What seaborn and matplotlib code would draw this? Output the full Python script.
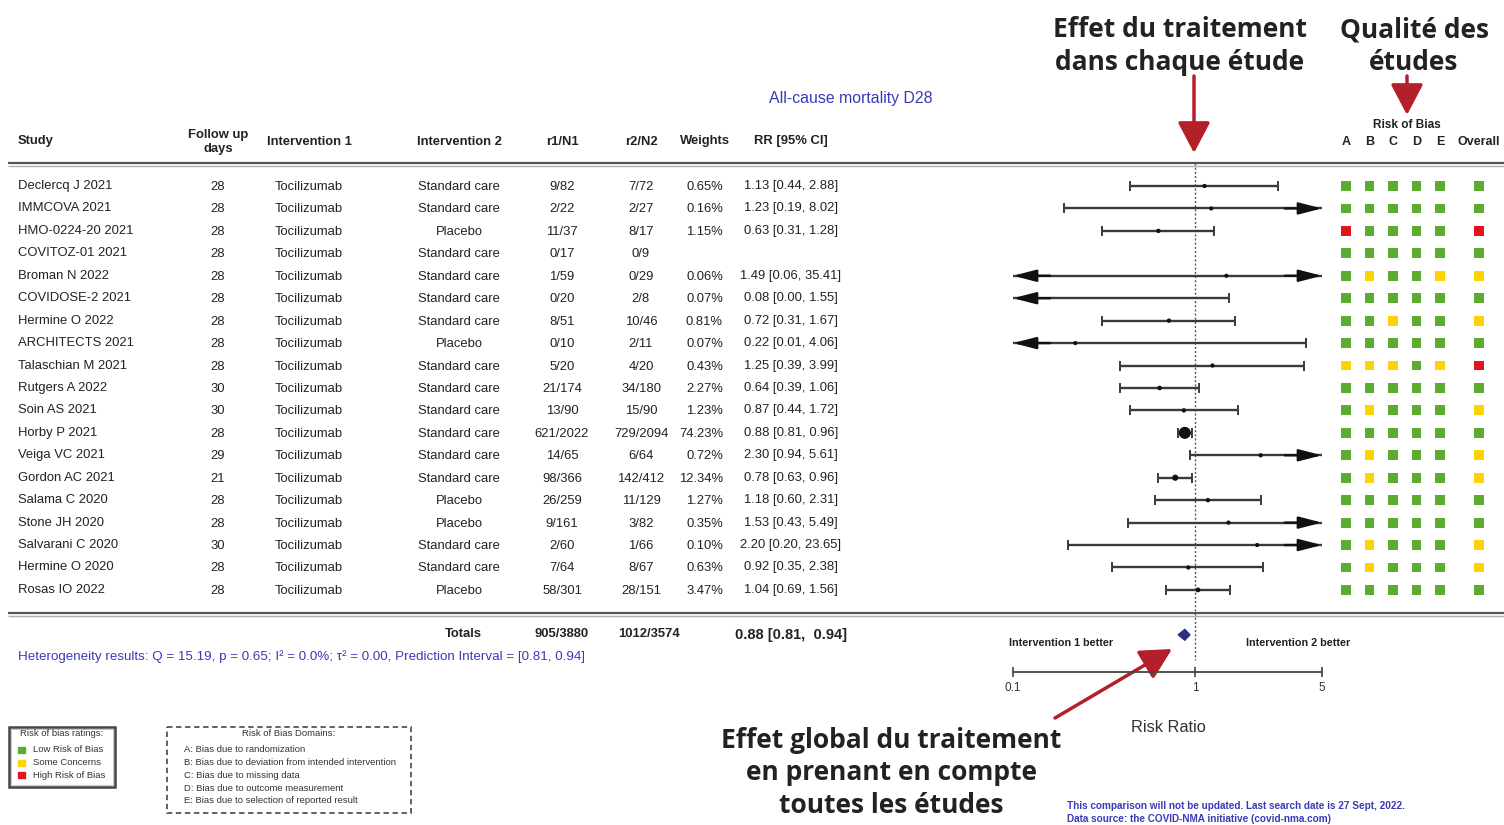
import numpy as np
import pandas as pd
import seaborn as sns
import matplotlib.pyplot as plt
from matplotlib.patches import Rectangle, Polygon
from matplotlib.ticker import NullLocator

sns.set_style('white')
plt.rcParams['font.family'] = ['Liberation Sans', 'DejaVu Sans']

nan = np.nan
studies = ['Declercq J 2021', 'IMMCOVA 2021', 'HMO-0224-20 2021', 'COVITOZ-01 2021', 'Broman N 2022',
           'COVIDOSE-2 2021', 'Hermine O 2022', 'ARCHITECTS 2021', 'Talaschian M 2021', 'Rutgers A 2022',
           'Soin AS 2021', 'Horby P 2021', 'Veiga VC 2021', 'Gordon AC 2021', 'Salama C 2020',
           'Stone JH 2020', 'Salvarani C 2020', 'Hermine O 2020', 'Rosas IO 2022']
follow_up = [28, 28, 28, 28, 28, 28, 28, 28, 28, 30, 30, 28, 29, 21, 28, 28, 30, 28, 28]
intervention1 = ['Tocilizumab'] * 19
intervention2 = ['Standard care', 'Standard care', 'Placebo', 'Standard care', 'Standard care',
                 'Standard care', 'Standard care', 'Placebo', 'Standard care', 'Standard care',
                 'Standard care', 'Standard care', 'Standard care', 'Standard care', 'Placebo',
                 'Placebo', 'Standard care', 'Standard care', 'Placebo']
r1n1 = ['9/82', '2/22', '11/37', '0/17', '1/59', '0/20', '8/51', '0/10', '5/20', '21/174', '13/90',
        '621/2022', '14/65', '98/366', '26/259', '9/161', '2/60', '7/64', '58/301']
r2n2 = ['7/72', '2/27', '8/17', '0/9', '0/29', '2/8', '10/46', '2/11', '4/20', '34/180', '15/90',
        '729/2094', '6/64', '142/412', '11/129', '3/82', '1/66', '8/67', '28/151']
weights = [0.65, 0.16, 1.15, nan, 0.06, 0.07, 0.81, 0.07, 0.43, 2.27, 1.23, 74.23, 0.72, 12.34,
           1.27, 0.35, 0.10, 0.63, 3.47]
rr = [1.13, 1.23, 0.63, nan, 1.49, 0.08, 0.72, 0.22, 1.25, 0.64, 0.87, 0.88, 2.30, 0.78, 1.18,
      1.53, 2.20, 0.92, 1.04]
ci_low = [0.44, 0.19, 0.31, nan, 0.06, 0.00, 0.31, 0.01, 0.39, 0.39, 0.44, 0.81, 0.94, 0.63, 0.60,
          0.43, 0.20, 0.35, 0.69]
ci_high = [2.88, 8.02, 1.28, nan, 35.41, 1.55, 1.67, 4.06, 3.99, 1.06, 1.72, 0.96, 5.61, 0.96, 2.31,
           5.49, 23.65, 2.38, 1.56]

# risk of bias: L = low, S = some concerns, H = high
rob_domains = ['A', 'B', 'C', 'D', 'E', 'Overall']
rob_A = list('LLHLLLLLSLLLLLLLLLL')
rob_B = list('LLLLSLLLSLSLSSLLSSL')
rob_C = list('LLLLLLSLSLLLLLLLLLL')
rob_D = list('LLLLLLLLLLLLLLLLLLL')
rob_E = list('LLLLSLLLSLLLLLLLLLL')
rob_overall = list('LLHLSLSLHLSLSSLLSSL')

total_r1, total_r2 = '905/3880', '1012/3574'
pooled_rr, pooled_lo, pooled_hi = 0.88, 0.81, 0.94

W, H = 1504, 825
ROW0, DY = 186, 22.44
def ypx(i):
    return ROW0 + i * DY

fig = plt.figure(figsize=(W / 100, H / 100), dpi=100)
ax0 = fig.add_axes([0, 0, 1, 1])
ax0.set_xlim(0, W)
ax0.set_ylim(H, 0)
ax0.axis('off')

txt = '#222222'
blue = '#3a3ab8'
red_arrow = '#b3202a'
fs = 9.4

# title and headers
ax0.text(851, 98, 'All-cause mortality D28', color=blue, fontsize=11.4, ha='center', va='center')
hdr = dict(fontsize=fs, fontweight='bold', color=txt, va='center')
ax0.text(18, 141, 'Study', ha='left', **hdr)
ax0.text(218, 142, 'Follow up\ndays', ha='center', linespacing=1.3, **hdr)
ax0.text(309, 142, 'Intervention 1', ha='center', **hdr)
ax0.text(459, 142, 'Intervention 2', ha='center', **hdr)
ax0.text(562, 142, 'r1/N1', ha='center', **hdr)
ax0.text(641, 142, 'r2/N2', ha='center', **hdr)
ax0.text(705, 141, 'Weights', ha='center', **hdr)
ax0.text(791, 141, 'RR [95% CI]', ha='center', **hdr)
ax0.text(1407, 125, 'Risk of Bias', ha='center', fontsize=8.5, fontweight='bold', color=txt, va='center')

for y, lw, c in [(162.5, 1.6, '#555555'), (165.5, 1.0, '#b0b0b0'), (612.5, 1.6, '#555555'), (615.5, 1.0, '#b0b0b0')]:
    ax0.plot([8, W], [y, y], color=c, lw=lw, solid_capstyle='butt')

# table rows
row = dict(fontsize=fs, color=txt, va='center')
for i in range(len(studies)):
    y = ypx(i)
    ax0.text(18, y, studies[i], ha='left', **row)
    ax0.text(218, y + 1, str(follow_up[i]), ha='center', **row)
    ax0.text(275, y + 1, intervention1[i], ha='left', **row)
    ax0.text(459, y + 1, intervention2[i], ha='center', **row)
    ax0.text(562, y + 1, r1n1[i], ha='center', **row)
    ax0.text(641, y + 1, r2n2[i], ha='center', **row)
    if not np.isnan(weights[i]):
        ax0.text(723, y + 1, f'{weights[i]:.2f}%', ha='right', **row)
        ax0.text(791, y, f'{rr[i]:.2f} [{ci_low[i]:.2f}, {ci_high[i]:.2f}]', ha='center', **row)

# totals
ax0.text(463, 634, 'Totals', ha='center', va='center', fontsize=fs, fontweight='bold', color=txt)
ax0.text(562, 634, total_r1, ha='center', va='center', fontsize=fs, fontweight='bold', color=txt)
ax0.text(649, 634, total_r2, ha='center', va='center', fontsize=fs, fontweight='bold', color=txt)
ax0.text(791, 635, f'{pooled_rr:.2f} [{pooled_lo:.2f},  {pooled_hi:.2f}]', ha='center', va='center',
         fontsize=10.5, fontweight='bold', color=txt)
ax0.text(18, 657, 'Heterogeneity results: Q = 15.19, p = 0.65; I² = 0.0%; τ² = 0.00, '
         'Prediction Interval = [0.81, 0.94]', ha='left', va='center', fontsize=9.6, color=blue)

ax0.text(1061, 643, 'Intervention 1 better', ha='center', va='center', fontsize=7.8, fontweight='bold', color=txt)
ax0.text(1298, 643, 'Intervention 2 better', ha='center', va='center', fontsize=7.8, fontweight='bold', color=txt)
ax0.text(1168, 728, 'Risk Ratio', ha='center', va='center', fontsize=11.8, color='#333333')

# forest plot axes (log scale, rows on y)
fx0, fx1, fy0, fy1 = 1013, 1322, 163, 672
ax = fig.add_axes([fx0 / W, 1 - fy1 / H, (fx1 - fx0) / W, (fy1 - fy0) / H])
ax.set_facecolor('none')
ax.set_xscale('log')
ax.set_xlim(0.1, 5)
ax.set_ylim((fy1 - ROW0) / DY, (fy0 - ROW0) / DY)
for s in ['top', 'left', 'right']:
    ax.spines[s].set_visible(False)
ax.spines['bottom'].set_color('#444444')
ax.spines['bottom'].set_linewidth(1.3)
ax.set_xticks([0.1, 1, 5])
ax.set_xticklabels(['0.1', '1', '5'])
ax.xaxis.set_minor_locator(NullLocator())
ax.set_yticks([])
ax.tick_params(axis='x', direction='inout', length=7, width=1.2, color='#444444',
               labelsize=8.5, labelcolor='#333333', pad=4, bottom=True)
ax.vlines(1, (fy0 - ROW0) / DY, (660 - ROW0) / DY, color='#555555', lw=1.0, linestyles=(0, (1.5, 1.5)))

xmin, xmax = 0.1, 5
lc = '#3a3a3a'
for i in range(len(studies)):
    if np.isnan(rr[i]):
        continue
    lo, hi = ci_low[i], ci_high[i]
    lo_c, hi_c = max(lo, xmin), min(hi, xmax)
    ax.hlines(i, lo_c, hi_c, color=lc, lw=1.7)
    if lo >= xmin:
        ax.plot([lo], [i], marker='|', ms=7, mew=1.4, color=lc)
    else:
        ax.annotate('', xy=(xmin, i), xytext=(xmin * 1.6, i),
                    arrowprops=dict(arrowstyle='-|>,head_length=1.4,head_width=0.36', color='#111111',
                                    lw=1.7, mutation_scale=10, shrinkA=0, shrinkB=0))
    if hi <= xmax:
        ax.plot([hi], [i], marker='|', ms=7, mew=1.4, color=lc)
    else:
        ax.annotate('', xy=(xmax, i), xytext=(xmax / 1.6, i),
                    arrowprops=dict(arrowstyle='-|>,head_length=1.4,head_width=0.36', color='#111111',
                                    lw=1.7, mutation_scale=10, shrinkA=0, shrinkB=0))

pts = pd.DataFrame({'rr': rr, 'row': np.arange(len(studies)), 'w': weights}).dropna()
pts = pts[pts['rr'] >= xmin]
sns.scatterplot(data=pts, x='rr', y='row', size='w', sizes=(9, 75), marker='o', color='#111111',
                linewidth=0, legend=False, ax=ax, zorder=5)
ax.set_xlabel('')
ax.set_ylabel('')

ydia = 20
hh = 0.24
ax.add_patch(Polygon([(pooled_lo, ydia), (pooled_rr, ydia - hh), (pooled_hi, ydia), (pooled_rr, ydia + hh)],
                     closed=True, color='#2b2d7e', zorder=6))

# risk of bias grid
rob = pd.DataFrame({'A': rob_A, 'B': rob_B, 'C': rob_C, 'D': rob_D, 'E': rob_E, 'Overall': rob_overall})
rob['row'] = np.arange(len(rob))
rob_long = rob.melt(id_vars='row', var_name='domain', value_name='rating')
dom_pos = {'A': 0, 'B': 1, 'C': 2, 'D': 3, 'E': 4, 'Overall': 5.65}
rob_long['pos'] = rob_long['domain'].map(dom_pos)
rx0, rx1, rstep = 1330, 1502, 23.5
axr = fig.add_axes([rx0 / W, 1 - fy1 / H, (rx1 - rx0) / W, (fy1 - fy0) / H])
axr.set_facecolor('none')
axr.set_xlim((rx0 - 1346) / rstep, (rx1 - 1346) / rstep)
axr.set_ylim((fy1 - ROW0) / DY, (fy0 - ROW0) / DY)
rob_colors = {'L': '#5cac2f', 'S': '#ffd300', 'H': '#e3141b'}
sns.scatterplot(data=rob_long, x='pos', y='row', hue='rating', palette=rob_colors, marker='s', s=50,
                linewidth=0, legend=False, ax=axr)
axr.set_xlabel('')
axr.set_ylabel('')
axr.set_yticks([])
axr.xaxis.tick_top()
axr.set_xticks([dom_pos[d] for d in rob_domains])
axr.set_xticklabels(rob_domains, fontsize=9, fontweight='bold', color=txt)
axr.tick_params(axis='x', length=0, pad=11)
for s in axr.spines.values():
    s.set_visible(False)

# risk of bias legends
lfs = 6.8
ax0.add_patch(Rectangle((9, 727), 106, 60, fill=False, ec='#444444', lw=1.8))
ax0.add_patch(Rectangle((11, 729), 102, 56, fill=False, ec='#bbbbbb', lw=0.6))
ax0.text(62, 734, 'Risk of bias ratings:', ha='center', va='center', fontsize=lfs, color='#333333')
for k, (code, lab) in enumerate([('L', 'Low Risk of Bias'), ('S', 'Some Concerns'), ('H', 'High Risk of Bias')]):
    yy = 750 + k * 12.5
    ax0.add_patch(Rectangle((18, yy - 3), 7, 6, color=rob_colors[code]))
    ax0.text(33, yy, lab, ha='left', va='center', fontsize=lfs, color='#333333')

ax0.add_patch(Rectangle((167, 727), 244, 86, fill=False, ec='#555555', lw=1.3, ls=(0, (3, 2))))
ax0.text(289, 734, 'Risk of Bias Domains:', ha='center', va='center', fontsize=lfs, color='#333333')
domain_desc = ['A: Bias due to randomization', 'B: Bias due to deviation from intended intervention',
               'C: Bias due to missing data', 'D: Bias due to outcome measurement',
               'E: Bias due to selection of reported result']
for k, d in enumerate(domain_desc):
    ax0.text(184, 750 + k * 12.7, d, ha='left', va='center', fontsize=lfs, color='#333333')

ax0.text(1067, 806, 'This comparison will not be updated. Last search date is 27 Sept, 2022.',
         ha='left', va='center', fontsize=7.2, fontweight='bold', color=blue)
ax0.text(1067, 819, 'Data source: the COVID-NMA initiative (covid-nma.com)',
         ha='left', va='center', fontsize=7.2, fontweight='bold', color=blue)

# French callouts
ann = dict(family=['Open Sans', 'DejaVu Sans'], fontweight='bold', fontsize=19, color='#222222',
           ha='center', va='center', linespacing=1.27)
ax0.text(1180, 46, 'Effet du traitement\ndans chaque étude', **ann)
ax0.text(1414, 46, 'Qualité des\nétudes', **ann)
ax0.text(891, 773, 'Effet global du traitement\nen prenant en compte\ntoutes les études', **ann)

arr = dict(arrowstyle='-|>,head_length=0.95,head_width=0.5', color=red_arrow, lw=2.5,
           mutation_scale=20, shrinkA=0, shrinkB=0)
ax0.annotate('', xy=(1194, 153), xytext=(1194, 76), arrowprops=arr)
ax0.annotate('', xy=(1407, 115), xytext=(1407, 76), arrowprops=arr)
ax0.annotate('', xy=(1172, 649), xytext=(1055, 718), arrowprops=arr)

fig.savefig('out.png', dpi=100)
plt.close()
